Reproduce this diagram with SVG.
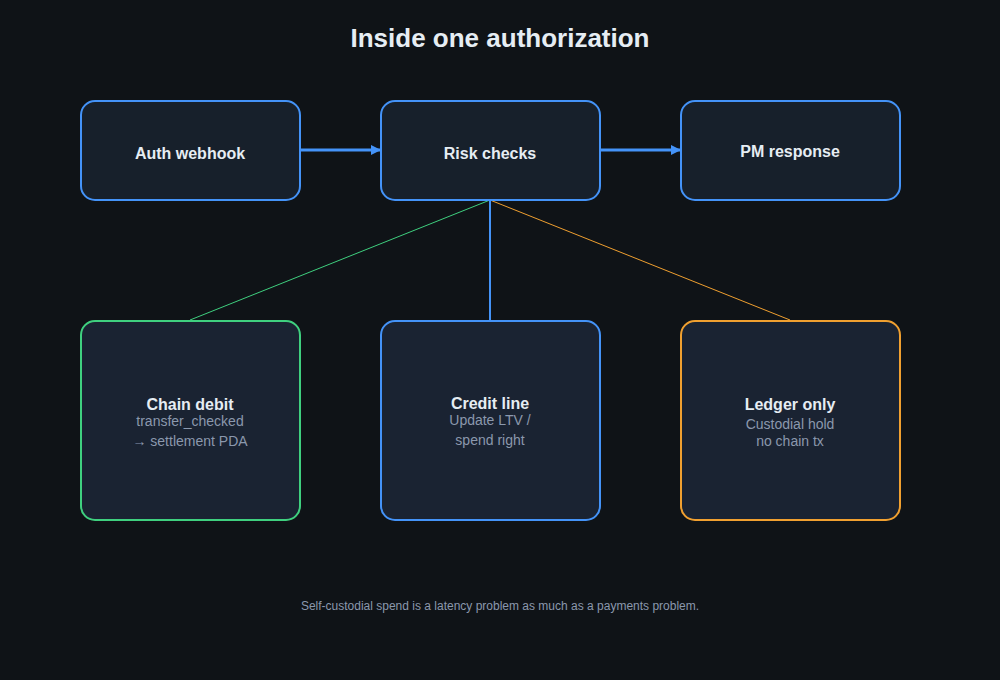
<svg xmlns="http://www.w3.org/2000/svg" width="1000" height="680" viewBox="0 0 1000 680">
<style>
text{font-family:"Liberation Sans",Arial,sans-serif;text-anchor:middle}
.t{font-size:16px;font-weight:bold;fill:#e6edf3}
.s{font-size:14px;fill:#8b98ad}
.box{stroke-width:2}
</style>
<defs>
<marker id="a" markerWidth="10" markerHeight="10" refX="9" refY="5" orient="auto" markerUnits="userSpaceOnUse"><path d="M0,0 L10,5 L0,10 z" fill="#4493f8"/></marker>
</defs>
<rect width="1000" height="680" fill="#0f1317"/>
<text x="500" y="47" style="font-size:26px;font-weight:bold;fill:#e6edf3">Inside one authorization</text>
<g id="connectors" fill="none">
<line x1="300" y1="150" x2="380" y2="150" stroke="#4493f8" stroke-width="3" marker-end="url(#a)"/>
<line x1="600" y1="150" x2="680" y2="150" stroke="#4493f8" stroke-width="3" marker-end="url(#a)"/>
<line x1="490" y1="200" x2="190" y2="320" stroke="#3fd07f" stroke-width="1"/>
<line x1="490" y1="200" x2="490" y2="320" stroke="#4493f8" stroke-width="2"/>
<line x1="490" y1="200" x2="790" y2="320" stroke="#f0a030" stroke-width="1"/>
</g>
<g id="auth"><rect class="box" x="81" y="101" width="219" height="99" rx="14" fill="#17202b" stroke="#4493f8"/><text class="t" x="190" y="159">Auth webhook</text></g>
<g id="risk"><rect class="box" x="381" y="101" width="219" height="99" rx="14" fill="#17202b" stroke="#4493f8"/><text class="t" x="490" y="159">Risk checks</text></g>
<g id="pm"><rect class="box" x="681" y="101" width="219" height="99" rx="14" fill="#17202b" stroke="#4493f8"/><text class="t" x="790" y="157">PM response</text></g>
<g id="chain"><rect class="box" x="81" y="321" width="219" height="199" rx="14" fill="#1a2332" stroke="#3fd07f"/><text class="t" x="190" y="410">Chain debit</text><text class="s" x="190" y="426">transfer_checked</text><text class="s" x="190" y="446">→ settlement PDA</text></g>
<g id="credit"><rect class="box" x="381" y="321" width="219" height="199" rx="14" fill="#1a2332" stroke="#4493f8"/><text class="t" x="490" y="409">Credit line</text><text class="s" x="490" y="425">Update LTV /</text><text class="s" x="490" y="445">spend right</text></g>
<g id="ledger"><rect class="box" x="681" y="321" width="219" height="199" rx="14" fill="#1a2332" stroke="#f0a030"/><text class="t" x="790" y="410">Ledger only</text><text class="s" x="790" y="429">Custodial hold</text><text class="s" x="790" y="446">no chain tx</text></g>
<text x="500" y="610" style="font-size:12px;fill:#8b98ad">Self-custodial spend is a latency problem as much as a payments problem.</text>
</svg>
